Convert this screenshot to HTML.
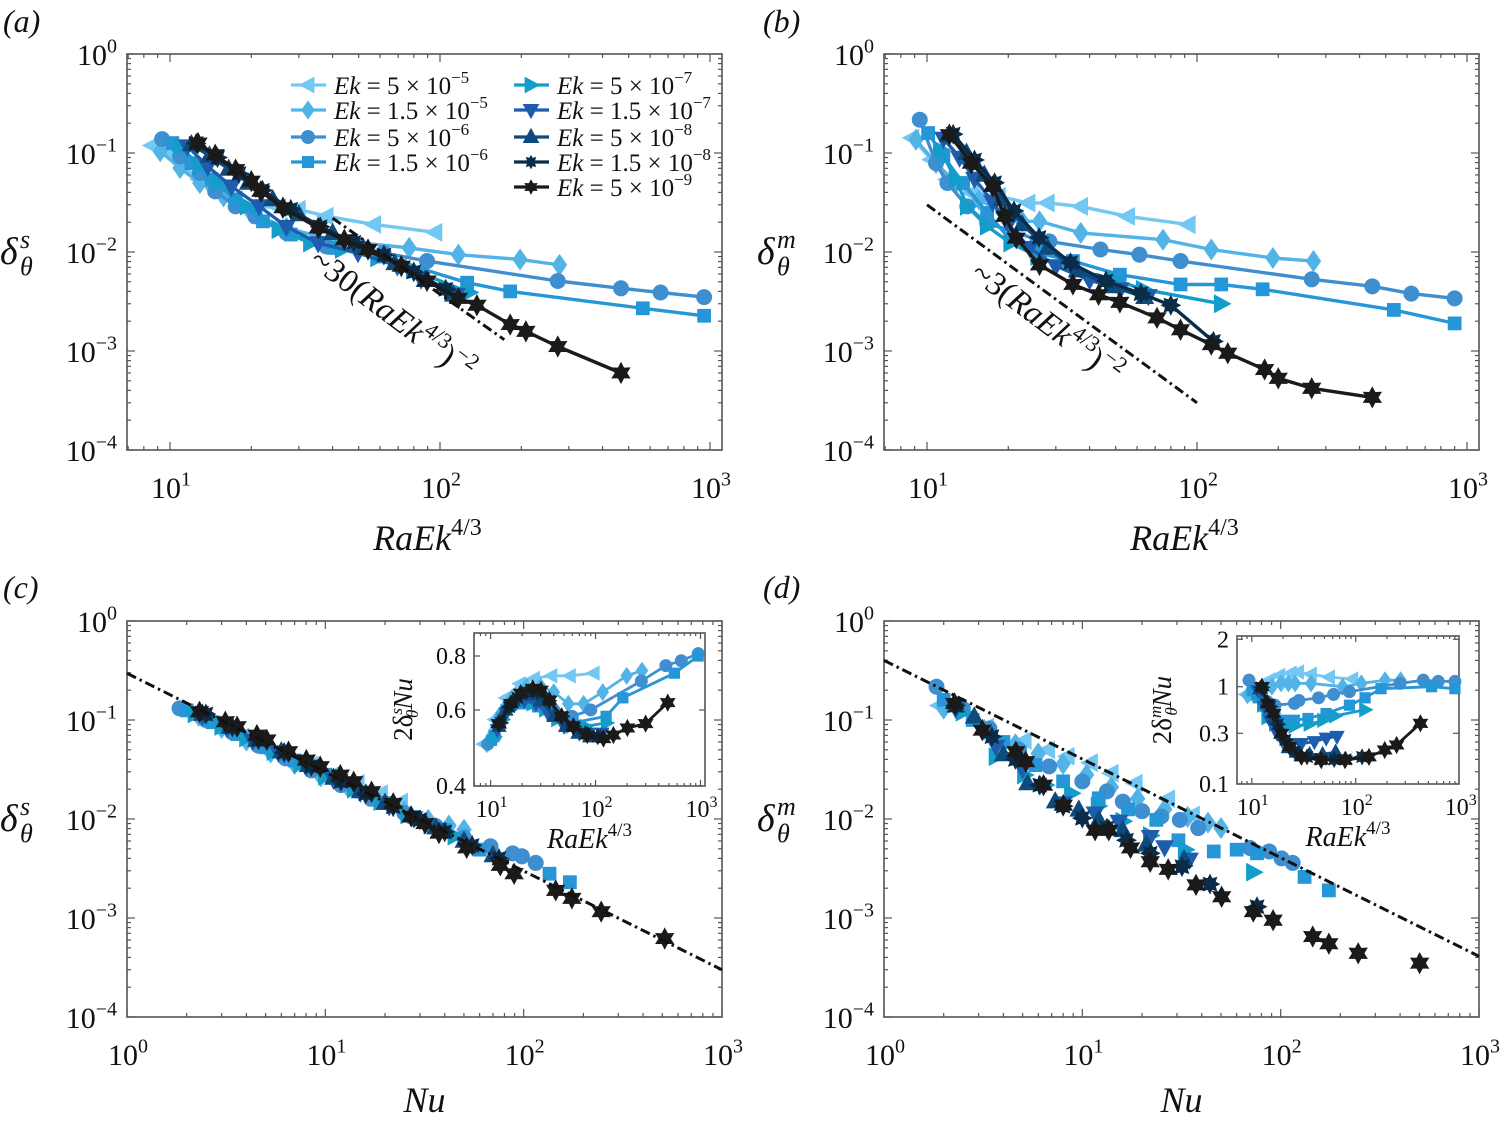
<!DOCTYPE html>
<html><head><meta charset="utf-8"><title>Boundary layer thickness</title>
<style>
html,body{margin:0;padding:0;background:#fff;}
svg{display:block;font-family:"Liberation Serif",serif;}
svg text{font-family:"Liberation Serif",serif;}
</style></head>
<body>
<svg id="chart" width="1505" height="1124" viewBox="0 0 1505 1124" xmlns="http://www.w3.org/2000/svg"></svg>
<script>
// ---------- Panel (a) data: delta_theta^s vs RaEk^{4/3}
const aX1=[8.6,9.8,11.2,12.9,14.7,17.5,20.7,25.3,29.9,37.9,56.9,95.9];
const aY1=[0.119,0.100,0.073,0.054,0.043,0.034,0.029,0.028,0.027,0.023,0.019,0.0158];
const aX2=[9.2,10.9,12.9,15.8,20,27,39.2,76.9,117,198,277];
const aY2=[0.104,0.0705,0.0497,0.0365,0.0248,0.0175,0.0133,0.011,0.0094,0.0084,0.0074];
const aX3=[9.35,10.9,12.9,14.7,17.5,20.7,27,37.9,61.8,89.5,273,468,656,951];
const aY3=[0.138,0.0925,0.0628,0.041,0.0289,0.0229,0.0156,0.0114,0.0098,0.0081,0.0051,0.0043,0.0039,0.0035];
const aX4=[10.2,12.0,14.3,17.5,22.1,28,40.5,60.8,126,182,564,951];
const aY4=[0.126,0.079,0.054,0.034,0.0204,0.015,0.011,0.009,0.0049,0.004,0.0027,0.00227];
const aX5=[10.9,12.9,15.2,19.3,25.3,33.1,43.4,58.7,79.6,128];
const aY5=[0.117,0.073,0.05,0.029,0.0168,0.0123,0.0106,0.0087,0.0066,0.0039];
const aX6=[11.6,13.8,16.9,21.4,27,35.4,49.7,69.5,85.1,115];
const aY6=[0.117,0.073,0.046,0.029,0.018,0.0123,0.0098,0.0072,0.0053,0.0037];
const aX7=[12,14,16.5,19.5,24,30,40,52,68,88,112];
const aY7=[0.122,0.094,0.069,0.05,0.034,0.024,0.0155,0.011,0.0077,0.0052,0.0037];
const aX8=[12.5,15,18,22,28,36,48,62,80,105];
const aY8=[0.125,0.09,0.062,0.042,0.027,0.018,0.0125,0.0093,0.0063,0.0042];
const aX9=[12.7,14.7,17.5,20.0,21.7,26.2,35.4,44.2,54.1,71.9,89.5,117,137,182,208,273,468];
const aY9=[0.126,0.096,0.068,0.052,0.041,0.028,0.0175,0.0133,0.0106,0.0072,0.0051,0.0034,0.0029,0.00185,0.00158,0.00111,0.0006];
const aRefX=[40,173];
const aRefY=[0.022,0.0013];

// ---------- Panel (b) data: delta_theta^m vs RaEk^{4/3}
const bX1=[8.8,10.4,11.9,14.6,18.4,23.7,27.9,37.1,55.4,92.9];
const bY1=[0.142,0.0857,0.054,0.0394,0.0365,0.0313,0.0313,0.0289,0.0229,0.0189];
const bX2=[9.1,10.8,12.8,15.6,19.1,22.5,26.1,37.1,74.8,113,191,270];
const bY2=[0.136,0.079,0.0498,0.0338,0.0248,0.0204,0.0204,0.0156,0.0133,0.0106,0.0087,0.0081];
const bX3=[9.4,10.8,11.9,14.1,16.7,25.7,28.4,43.9,61.2,86.9,266,446,622,900];
const bY3=[0.217,0.079,0.0498,0.0289,0.0196,0.0133,0.0128,0.0106,0.0094,0.0081,0.0053,0.0045,0.0038,0.0034];
const bX4=[10.1,11.5,13.6,16.7,20.4,25.7,34.7,51.8,86.9,123,175,536,900];
const bY4=[0.159,0.0925,0.0498,0.0248,0.0133,0.0098,0.0081,0.0059,0.0047,0.0047,0.0042,0.0026,0.0019];
const bX5=[11.2,12.8,14.1,16.7,20.4,25.7,35.9,48.5,63.2,123];
const bY5=[0.108,0.054,0.0289,0.0182,0.0123,0.009,0.0066,0.0053,0.0042,0.003];
const bX6=[11.5,13.2,15,17.5,20,24,30,40,52,66];
const bY6=[0.14,0.09,0.055,0.032,0.019,0.011,0.0072,0.0052,0.0042,0.0036];
const bX7=[12,14,16.3,19,22.5,28,36,48,64];
const bY7=[0.15,0.1,0.06,0.034,0.019,0.011,0.0065,0.0045,0.0035];
const bX8=[12.5,15,17.8,21,26,34,46,62,80,115];
const bY8=[0.155,0.085,0.05,0.026,0.014,0.0078,0.0051,0.0038,0.0029,0.00125];
const bX9=[12.1,14.6,17.5,19.4,21.4,26.1,34.7,43.2,51.8,71.1,86.9,113,130,178,200,266,446];
const bY9=[0.153,0.079,0.046,0.0229,0.0138,0.0074,0.0047,0.0037,0.0031,0.00216,0.00164,0.00116,0.00095,0.00065,0.00053,0.00042,0.00034];
const bRefX=[10,100];
const bRefY=[0.030,0.0003];

// ---------- Panel (c) data: delta_theta^s vs Nu
const cX1=[2.2,2.9,3.8,5,6.5,8.5,11,14.5,19,24];
const cY1=[0.115,0.088,0.067,0.052,0.043,0.035,0.028,0.023,0.018,0.0148];
const cX2=[2.3,3,4,5.3,7,9.5,13,18,25,33,42,50];
const cY2=[0.11,0.083,0.062,0.047,0.036,0.027,0.021,0.016,0.012,0.0098,0.0086,0.0078];
const cX3=[1.84,2.5,3.4,4.6,6.3,8.5,12,17,25,36,50,68,88,98,115];
const cY3=[0.131,0.1,0.075,0.055,0.041,0.031,0.022,0.016,0.0115,0.0085,0.0065,0.0053,0.0045,0.0042,0.0036];
const cX4=[2.0,2.7,3.6,5,7,10,14,20,28,40,60,135,171];
const cY4=[0.125,0.095,0.072,0.053,0.039,0.028,0.02,0.0145,0.0105,0.0077,0.0049,0.0028,0.0023];
const cX5=[2.2,3,4,5.5,7.5,10,14,19,26,34,45];
const cY5=[0.115,0.086,0.066,0.048,0.036,0.027,0.02,0.015,0.011,0.0087,0.0067];
const cX6=[2.4,3.2,4.3,5.8,8,11,15,21,28,37];
const cY6=[0.11,0.083,0.062,0.047,0.034,0.025,0.0185,0.0135,0.0102,0.0078];
const cX7=[2.4,3.3,4.5,6,8.2,11,15,20,27,36,50,70];
const cY7=[0.115,0.085,0.063,0.048,0.035,0.026,0.019,0.0145,0.0108,0.0082,0.006,0.0043];
const cX8=[2.5,3.4,4.6,6.2,8.5,12,16,22,30,40,55,75];
const cY8=[0.115,0.085,0.063,0.047,0.034,0.024,0.018,0.0133,0.0098,0.0074,0.0054,0.004];
const cX9=[2.32,3.13,3.59,4.52,5.07,6.52,8.02,9.42,11.9,13.9,17.1,22.0,27.1,31.8,37.4,51.6,76.2,89.5,145,175,246,514];
const cY9=[0.121,0.096,0.0857,0.0705,0.0628,0.0479,0.0394,0.0338,0.0278,0.0238,0.0189,0.0144,0.0106,0.009,0.0072,0.0051,0.0034,0.0028,0.0019,0.00158,0.00116,0.00062];
const cRefX=[1,1000];
const cRefY=[0.296,0.0003];

// ---------- Panel (d) data: delta_theta^m vs Nu
const dX1=[1.9,3.3,5.1,6.7,8.4,11,14,18.5,27,36];
const dY1=[0.14,0.085,0.062,0.05,0.043,0.037,0.029,0.023,0.016,0.011];
const dX2=[2,3.2,4.6,6,8,10.5,14,19,26,34,43,50];
const dY2=[0.13,0.08,0.057,0.046,0.036,0.028,0.021,0.016,0.0125,0.0105,0.0092,0.0081];
const dX3=[1.84,2.5,3.4,4.8,6.8,10,13.3,16,20,25,31,38.4,70,87.5,101,115];
const dY3=[0.217,0.13,0.082,0.05,0.034,0.024,0.019,0.015,0.012,0.0106,0.0098,0.0081,0.0051,0.0047,0.004,0.0036];
const dX4=[2,2.8,4,5.8,8,12.1,17,23.6,30.5,46,60,76,132,175];
const dY4=[0.16,0.1,0.06,0.035,0.024,0.0162,0.0125,0.0098,0.0061,0.0047,0.0049,0.0045,0.0026,0.0019];
const dX5=[2.5,3.67,5.1,6.5,8.8,12,16,22,33,72.8];
const dY5=[0.12,0.0426,0.0278,0.022,0.0182,0.0135,0.0095,0.0068,0.0049,0.0029];
const dX6=[2.3,3.67,5,8,11.6,15.3,22,26,34.7];
const dY6=[0.13,0.0538,0.032,0.0144,0.0114,0.0094,0.0066,0.0052,0.0039];
const dX7=[2.3,2.85,4,5.3,7.3,9.6,12.1,16,21,32.6];
const dY7=[0.14,0.108,0.045,0.0229,0.015,0.0124,0.0098,0.0077,0.0055,0.0039];
const dX8=[2.3,3.5,4.6,6.1,8,10,13.3,16.7,22,31.8,44,76];
const dY8=[0.14,0.068,0.04,0.022,0.0135,0.0102,0.0081,0.0061,0.0045,0.0033,0.0022,0.0013];
const dX9=[2.27,3.13,4.62,5.18,6.37,8.02,11.6,13.6,17.5,22.0,27.1,37.4,50.4,72.8,91.6,145,175,246,502];
const dY9=[0.147,0.079,0.0479,0.038,0.022,0.0138,0.0077,0.0077,0.0051,0.0037,0.0031,0.00216,0.00164,0.00116,0.00095,0.00065,0.00055,0.00044,0.00035];
const dRefX=[1,1000];
const dRefY=[0.40,0.00041];

// ---------- Inset (c): 2 delta^s Nu vs RaEk^{4/3}
const icX1=[8.6,11,14,19,26,38,57,96];
const icY1=[0.5,0.57,0.64,0.69,0.71,0.72,0.72,0.73];
const icX2=[9.2,12,16,22,30,40,55,77,117,198,277];
const icY2=[0.5,0.58,0.64,0.68,0.68,0.66,0.62,0.62,0.66,0.72,0.74];
const icX3=[9.4,11,13,17,22,30,40,60,90,273,468,656,951];
const icY3=[0.5,0.52,0.58,0.62,0.63,0.62,0.6,0.58,0.6,0.7,0.76,0.78,0.81];
const icX4=[10.2,12,14,17.5,22,28,40,61,126,182,564,951];
const icY4=[0.51,0.55,0.6,0.62,0.62,0.61,0.58,0.56,0.58,0.64,0.73,0.8];
const icX5=[10.9,13,15,19,25,33,43,59,80,128];
const icY5=[0.52,0.57,0.6,0.62,0.62,0.6,0.57,0.55,0.55,0.56];
const icX6=[11.6,14,17,21,27,35,50,70,85,115];
const icY6=[0.54,0.59,0.62,0.63,0.62,0.59,0.55,0.53,0.53,0.53];
const icX7=[12,14,16.5,19.5,24,30,40,52,68,88,112];
const icY7=[0.55,0.6,0.63,0.65,0.65,0.63,0.58,0.55,0.53,0.52,0.52];
const icX8=[12.5,15,18,22,28,36,48,62,80,105];
const icY8=[0.56,0.61,0.64,0.66,0.66,0.63,0.58,0.55,0.53,0.52];
const icX9=[11.9,15.6,19.3,25.2,30.2,36.4,47.3,61.3,83.4,119,148,201,300,487];
const icY9=[0.558,0.621,0.656,0.673,0.667,0.632,0.58,0.549,0.525,0.515,0.525,0.545,0.558,0.624];

// ---------- Inset (d): 2 delta^m Nu vs RaEk^{4/3}
const idX1=[8.8,10.4,11.9,14.6,18.4,23.7,27.9,37.1,55.4,92.9];
const idY1=[0.82,0.92,1.0,1.1,1.18,1.22,1.24,1.2,1.15,1.12];
const idX2=[9.1,10.8,12.8,15.6,19.1,22.5,26.1,37.1,74.8,113,191,270];
const idY2=[0.8,0.88,0.95,1.0,1.05,1.05,1.05,1.05,1.0,1.05,1.1,1.1];
const idX3=[9.4,10.8,11.9,14.1,16.7,25.7,28.4,43.9,61.2,86.9,266,446,622,900];
const idY3=[1.1,0.95,0.8,0.68,0.62,0.65,0.7,0.75,0.82,0.88,1.05,1.1,1.08,1.08];
const idX4=[10.1,11.5,13.6,16.7,20.4,25.7,34.7,51.8,86.9,123,175,536,900];
const idY4=[0.9,0.75,0.6,0.48,0.42,0.42,0.44,0.5,0.62,0.75,0.95,1.0,0.95];
const idX5=[11.2,12.8,14.1,16.7,20.4,25.7,35.9,48.5,63.2,123];
const idY5=[0.85,0.62,0.45,0.38,0.36,0.36,0.38,0.42,0.47,0.55];
const idX6=[11.5,13.2,15,17.5,20,24,30,40,52,66];
const idY6=[0.9,0.6,0.42,0.3,0.25,0.24,0.24,0.25,0.27,0.28];
const idX7=[12,14,16.3,19,22.5,28,36,48,64];
const idY7=[0.95,0.65,0.45,0.3,0.22,0.2,0.19,0.19,0.2];
const idX8=[12.5,15,17.8,21,26,34,46,62,80,115];
const idY8=[0.98,0.6,0.38,0.26,0.2,0.18,0.17,0.17,0.17,0.18];
const idX9=[12.5,14.2,16.2,19.3,23,30,46.6,78.8,134,190,247,419];
const idY9=[1.0,0.65,0.5,0.3,0.225,0.18,0.168,0.168,0.18,0.209,0.233,0.388];

// legend / series labels
const ekMant=["5","1.5","5","1.5","5","1.5","5","1.5","5"];
const ekExp=["−5","−5","−6","−6","−7","−7","−8","−8","−9"];
const yTickExps=[0,-1,-2,-3,-4];
const icYTicks=[0.4,0.6,0.8];
const icYTickLabels=["0.4","0.6","0.8"];
const idYTicks=[0.1,0.3,1,2];
const idYTickLabels=["0.1","0.3","1","2"];

const COLORS=['#72c8f2','#52b3e6','#3f8fd0','#2596d8','#159dc9','#1e5cae','#0e4b7c','#0b2c48','#1a1a1a'];
const SHAPES=['tl','dia','cir','sq','tr','td','tu','st8','hex'];

const NS='http://www.w3.org/2000/svg';
const svg=document.getElementById('chart');
function mk(tag,attrs,parent){const e=document.createElementNS(NS,tag);for(const k in attrs)e.setAttribute(k,attrs[k]);(parent||svg).appendChild(e);return e;}
function logScale(d0,d1,p0,p1){return v=>p0+(Math.log10(v)-d0)/(d1-d0)*(p1-p0);}
function pieceScale(vals,pix){const lv=vals.map(Math.log10);return v=>{const l=Math.log10(v);let i=0;while(i<lv.length-2&&l>lv[i+1])i++;return pix[i]+(l-lv[i])/(lv[i+1]-lv[i])*(pix[i+1]-pix[i]);};}

function markerEl(type,cx,cy,r,color,parent){
  let e;const a={fill:color,stroke:color,'stroke-width':1};
  if(type==='cir'){e=mk('circle',Object.assign({cx:cx,cy:cy,r:r},a),parent);}
  else if(type==='sq'){const s=r*1.7;e=mk('rect',Object.assign({x:cx-s/2,y:cy-s/2,width:s,height:s},a),parent);}
  else{
    let p=[];
    if(type==='dia')p=[[0,-1.35],[0.95,0],[0,1.35],[-0.95,0]];
    else if(type==='tl')p=[[-1.25,0],[0.9,-1.15],[0.9,1.15]];
    else if(type==='tr')p=[[1.25,0],[-0.9,-1.15],[-0.9,1.15]];
    else if(type==='td')p=[[-1.15,-0.85],[1.15,-0.85],[0,1.25]];
    else if(type==='tu')p=[[-1.15,0.85],[1.15,0.85],[0,-1.25]];
    else if(type==='st8'){for(let i=0;i<16;i++){const ang=i*Math.PI/8;const rr=i%2?0.75:1.25;p.push([rr*Math.sin(ang),-rr*Math.cos(ang)]);}}
    else if(type==='hex'){for(let i=0;i<12;i++){const ang=i*Math.PI/6;const rr=i%2?0.75:1.35;p.push([rr*Math.sin(ang),-rr*Math.cos(ang)]);}}
    e=mk('polygon',Object.assign({points:p.map(q=>(cx+q[0]*r).toFixed(1)+','+(cy+q[1]*r).toFixed(1)).join(' ')},a),parent);
  }
  return e;
}

function powText(parent,x,y,exp,anchor,size){
  const t=mk('text',{x:x,y:y,'font-size':size,'text-anchor':anchor,fill:'#111'},parent);
  t.appendChild(document.createTextNode('10'));
  const s=mk('tspan',{'font-size':Math.round(size*0.66),dy:-size*0.42},t);
  s.textContent=String(exp).replace('-','−');
  return t;
}

function drawAxes(g,box,sx,sy,xr,yr,opts){
  const [L,T,R,B]=box;
  const frame=mk('rect',{x:L,y:T,width:R-L,height:B-T,fill:'none',stroke:'#555','stroke-width':1.6},g);
  
  
  const tk=mk('g',{stroke:'#555','stroke-width':1.2},g);
  
  
  const maj=opts.maj||8,mn=opts.mn||4;
  for(let d=Math.floor(xr[0]);d<=Math.ceil(xr[1]);d++){
    for(let m=1;m<10;m++){
      const v=m*Math.pow(10,d);const px=sx(v);
      if(px<L-0.5||px>R+0.5)continue;
      const len=m===1?maj:mn;
      mk('line',{x1:px,y1:B,x2:px,y2:B-len},tk);mk('line',{x1:px,y1:T,x2:px,y2:T+len},tk);
    }
  }
  if(opts.yLog!==false){
    for(let d=Math.floor(yr[0]);d<=Math.ceil(yr[1]);d++){
      for(let m=1;m<10;m++){
        const v=m*Math.pow(10,d);const py=sy(v);
        if(py<T-0.5||py>B+0.5)continue;
        const len=m===1?maj:mn;
        mk('line',{x1:L,y1:py,x2:L+len,y2:py},tk);mk('line',{x1:R,y1:py,x2:R-len,y2:py},tk);
      }
    }
  }
}

function drawSeries(g,xs,ys,sx,sy,idx,r,lw,withLine,name){
  const sg=mk('g',{},g);
  
  
  if(withLine){
    const pl=mk('polyline',{points:xs.map((x,i)=>sx(x).toFixed(1)+','+sy(ys[i]).toFixed(1)).join(' '),fill:'none',stroke:COLORS[idx],'stroke-width':lw,'stroke-linejoin':'round'},sg);
    
    
  }
  xs.forEach((x,i)=>{
    const m=markerEl(SHAPES[idx],sx(x),sy(ys[i]),r,COLORS[idx],sg);
    
    
  });
}

function refLine(g,xs,ys,sx,sy,name){
  const l=mk('polyline',{points:xs.map((x,i)=>sx(x).toFixed(1)+','+sy(ys[i]).toFixed(1)).join(' '),fill:'none',stroke:'#111','stroke-width':3,'stroke-dasharray':'10,4,2.5,4'},g);
  
  
}

function panelLabel(x,y,txt){
  const t=mk('text',{x:x,y:y,'font-size':32,'font-style':'italic',fill:'#111'});
  t.textContent=txt;
  
  
}

function yLabel(x,y,sup){
  const t=mk('text',{x:x,y:y,'font-size':38,fill:'#111','font-style':'italic'});
  
  
  t.appendChild(document.createTextNode('δ'));
  const s1=mk('tspan',{x:x+20,dy:-16,'font-size':26},t);s1.textContent=sup;
  const s2=mk('tspan',{x:x+20,dy:27,'font-size':26},t);s2.textContent='θ';
}
function raLabel(parent,x,y,size,name){
  const t=mk('text',{x:x,y:y,'font-size':size,fill:'#111','text-anchor':'middle'},parent);
  
  
  const a=mk('tspan',{'font-style':'italic'},t);a.textContent='RaEk';
  const b=mk('tspan',{'font-size':Math.round(size*0.68),dy:-size*0.42},t);b.textContent='4/3';
  return t;
}

const all=[
 {key:'a',X:[aX1,aX2,aX3,aX4,aX5,aX6,aX7,aX8,aX9],Y:[aY1,aY2,aY3,aY4,aY5,aY6,aY7,aY8,aY9],ref:[aRefX,aRefY]},
 {key:'b',X:[bX1,bX2,bX3,bX4,bX5,bX6,bX7,bX8,bX9],Y:[bY1,bY2,bY3,bY4,bY5,bY6,bY7,bY8,bY9],ref:[bRefX,bRefY]},
 {key:'c',X:[cX1,cX2,cX3,cX4,cX5,cX6,cX7,cX8,cX9],Y:[cY1,cY2,cY3,cY4,cY5,cY6,cY7,cY8,cY9],ref:[cRefX,cRefY]},
 {key:'d',X:[dX1,dX2,dX3,dX4,dX5,dX6,dX7,dX8,dX9],Y:[dY1,dY2,dY3,dY4,dY5,dY6,dY7,dY8,dY9],ref:[dRefX,dRefY]}
];
const geo={
 a:{box:[127,54,722,450],sx:logScale(1,3,170,710),sy:logScale(0,-4,54,450),xr:[0,3],xt:[1,2,3],lbl:[3,32,'(a)'],sup:'s',line:true},
 b:{box:[884,54,1479,450],sx:logScale(1,3,927,1467),sy:logScale(0,-4,54,450),xr:[0,3],xt:[1,2,3],lbl:[763,32,'(b)'],sup:'m',line:true},
 c:{box:[127,621,722,1017],sx:logScale(0,3,127,722),sy:logScale(0,-4,621,1017),xr:[0,3],xt:[0,1,2,3],lbl:[3,598,'(c)'],sup:'s',line:false},
 d:{box:[884,621,1479,1017],sx:logScale(0,3,884,1479),sy:logScale(0,-4,621,1017),xr:[0,3],xt:[0,1,2,3],lbl:[763,598,'(d)'],sup:'m',line:false}
};

all.forEach(P=>{
  const G=geo[P.key];
  const g=mk('g',{});
  
  
  const [L,T,R,B]=G.box;
  drawAxes(g,G.box,G.sx,G.sy,G.xr,[-4,0],{});
  yTickExps.forEach(e=>{
    const t=powText(g,L-10,G.sy(Math.pow(10,e))+11,e,'end',30);
    
    
  });
  G.xt.forEach(e=>{
    const t=powText(g,G.sx(Math.pow(10,e))+1,B+48,e,'middle',30);
    
    
  });
  for(let i=0;i<9;i++){
    drawSeries(g,P.X[i],P.Y[i],G.sx,G.sy,i,7.5,3.4,G.line,'series-ek-'+(i+1));
  }
  refLine(g,P.ref[0],P.ref[1],G.sx,G.sy,'scaling-line');
  panelLabel(G.lbl[0],G.lbl[1],G.lbl[2]);
  yLabel(L-127,(T+B)/2+12,G.sup);
  const cx=(L+R)/2;
  if(G.line){raLabel(svg,cx+3,550,36,'x-axis-title');}
  else{const t=mk('text',{x:cx,y:1112,'font-size':36,'font-style':'italic','text-anchor':'middle',fill:'#111'});t.textContent='Nu';
    
    }
});

// annotations
function annot(x,y,ang,coef,name){
  const t=mk('text',{x:0,y:0,'font-size':33,fill:'#111',transform:'translate('+x+','+y+') rotate('+ang+')'});
  
  
  const a=mk('tspan',{},t);a.textContent='~'+coef+'(';
  const b=mk('tspan',{'font-style':'italic'},t);b.textContent='RaEk';
  const c=mk('tspan',{'font-size':22,dy:-14},t);c.textContent='4/3';
  const d=mk('tspan',{dy:14},t);d.textContent=')';
  const e=mk('tspan',{'font-size':22,dy:-14},t);e.textContent='−2';
}
annot(308,264,37,'30','scaling-annotation-a');
annot(969,277,37,'3','scaling-annotation-b');

// legend
const lg=mk('g',{});


const rowsY=[85,110,137,162,187];
for(let i=0;i<9;i++){
  const col=i<4?0:1,row=i<4?i:i-4;
  const x0=col?514:291,y=rowsY[row];
  const e=mk('g',{},lg);
  
  
  mk('line',{x1:x0,y1:y,x2:x0+35,y2:y,stroke:COLORS[i],'stroke-width':3.2},e);
  markerEl(SHAPES[i],x0+17,y,i>=7?5:6.5,COLORS[i],e);
  const t=mk('text',{x:x0+43,y:y+9,'font-size':25,fill:'#111'},e);
  const a=mk('tspan',{'font-style':'italic'},t);a.textContent='Ek';
  const b=mk('tspan',{},t);b.textContent=' = '+ekMant[i]+' × 10';
  const c=mk('tspan',{'font-size':17,dy:-11},t);c.textContent=ekExp[i];
}

// insets
function inset(key,box,sx,sy,X,Y,yt,ytl,xt,supTxt,titleDx){
  const g=mk('g',{});
  
  
  const [L,T,R,B]=box;
  mk('rect',{x:L,y:T,width:R-L,height:B-T,fill:'#fff'},g);
  drawAxes(g,box,sx,sy,[0,3],[-1,0],{yLog:false,maj:6,mn:3});
  const tk=mk('g',{stroke:'#555','stroke-width':1.2},g);
  yt.forEach((v,i)=>{
    const py=sy(v);
    mk('line',{x1:L,y1:py,x2:L+6,y2:py},tk);mk('line',{x1:R,y1:py,x2:R-6,y2:py},tk);
    const t=mk('text',{x:L-8,y:py+8,'font-size':24,'text-anchor':'end',fill:'#111'},g);
    t.textContent=ytl[i];
    
    
  });
  xt.forEach(e=>{
    const t=powText(g,sx(Math.pow(10,e))+1,B+31,e,'middle',24);
    
    
  });
  for(let i=0;i<9;i++) drawSeries(g,X[i],Y[i],sx,sy,i,6,2.8,true,'inset-series-ek-'+(i+1));
  raLabel(g,(L+R)/2,B+62,28,'inset-x-axis-title');
  const yx=L-titleDx,yy=(T+B)/2;
  const t=mk('text',{x:0,y:0,'font-size':27,fill:'#111','text-anchor':'middle',transform:'translate('+yx+','+yy+') rotate(-90)'},g);
  
  
  const a=mk('tspan',{},t);a.textContent='2δ';
  const b=mk('tspan',{'font-size':17,dy:-10,'font-style':'italic'},t);b.textContent=supTxt;
  const c=mk('tspan',{'font-size':17,dy:16,dx:-10,'font-style':'italic'},t);c.textContent='θ';
  const d=mk('tspan',{'font-style':'italic',dy:-6},t);d.textContent='Nu';
}
inset('c',[474,633,705,786],logScale(1,3,490.6,700.5),logScale(Math.log10(0.4),Math.log10(0.8),786,656),
  [icX1,icX2,icX3,icX4,icX5,icX6,icX7,icX8,icX9],[icY1,icY2,icY3,icY4,icY5,icY6,icY7,icY8,icY9],icYTicks,icYTickLabels,[1,2,3],'s',62);
inset('d',[1237,636,1459,784],logScale(1,3,1251.8,1459.7),pieceScale([0.1,0.3,1,2],[784,733.3,686.7,639.3]),
  [idX1,idX2,idX3,idX4,idX5,idX6,idX7,idX8,idX9],[idY1,idY2,idY3,idY4,idY5,idY6,idY7,idY8,idY9],idYTicks,idYTickLabels,[1,2,3],'m',66);
</script>
</body></html>
